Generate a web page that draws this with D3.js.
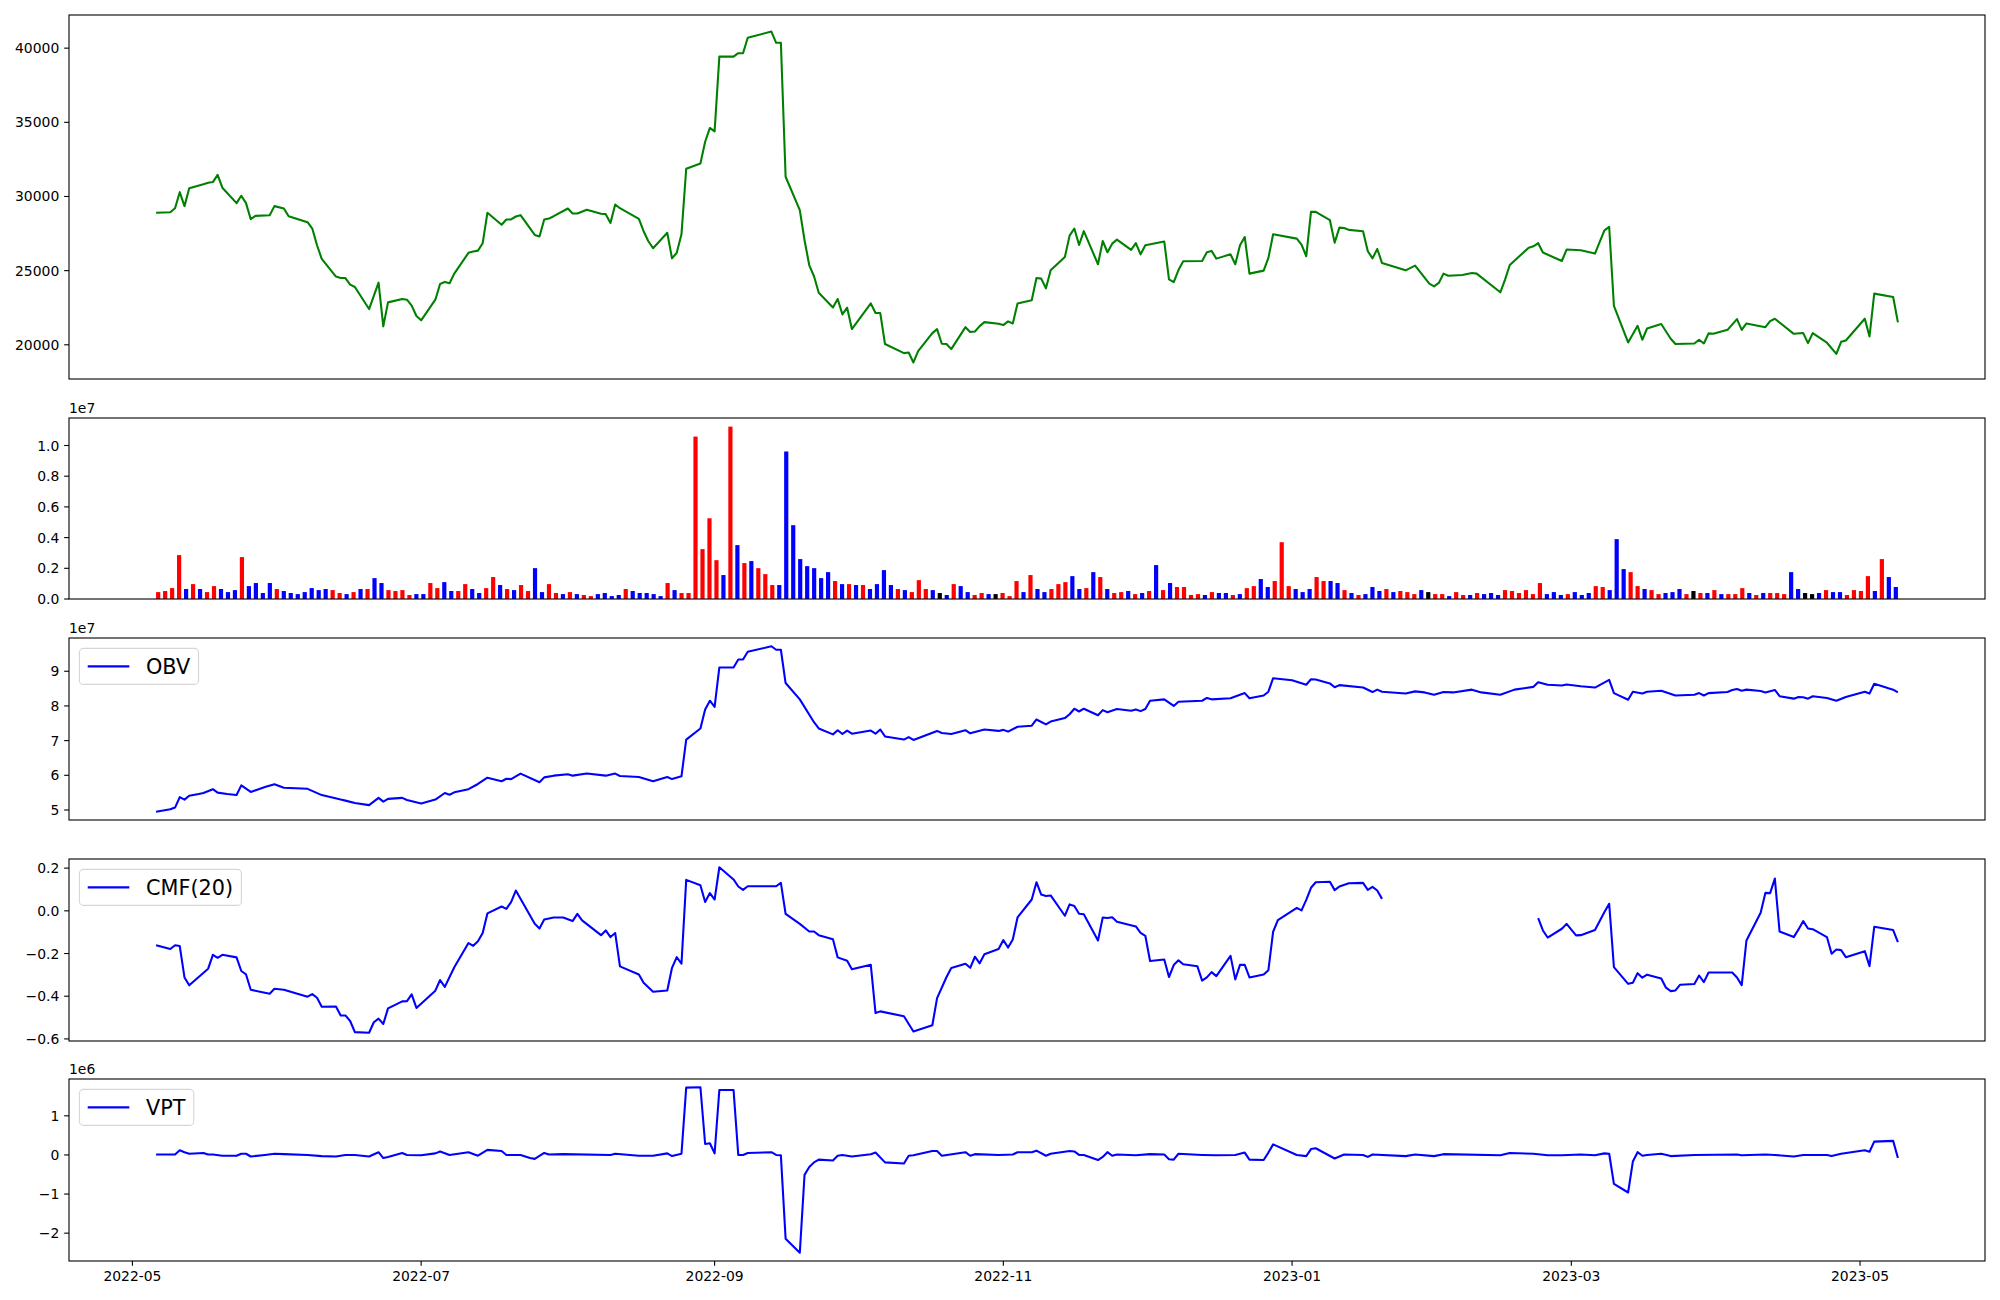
<!DOCTYPE html>
<html><head><meta charset="utf-8">
<script src="https://cdn.jsdelivr.net/npm/d3@7"></script>
<style>body{margin:0;background:#fff;} svg{display:block;} text{font-family:"DejaVu Sans",sans-serif;fill:#000;}</style>
</head><body><svg id="c" width="2000" height="1300"></svg>
<script>
// ---- DATA (x = days after 2022-05-01) ----
const pricePts = [[5,28900],[8,28940],[9,29210],[10,30290],[11,29350],[12,30560],[15,30830],[16,30920],[17,30970],[18,31460],[19,30590],[22,29550],[23,30050],[24,29550],[25,28470],[26,28690],[29,28740],[30,29350],[32,29190],[33,28670],[37,28270],[38,27840],[39,26710],[40,25790],[43,24600],[44,24500],[45,24500],[46,24060],[47,23900],[50,22410],[52,24190],[53,21240],[54,22860],[57,23090],[58,23040],[59,22640],[60,21940],[61,21650],[64,23040],[65,24100],[66,24240],[67,24150],[68,24800],[71,26200],[72,26290],[73,26350],[74,26850],[75,28900],[78,28090],[79,28450],[80,28450],[81,28650],[82,28740],[85,27410],[86,27300],[87,28450],[88,28510],[89,28670],[92,29190],[93,28850],[94,28850],[96,29100],[99,28830],[100,28810],[101,28220],[102,29460],[103,29210],[107,28490],[108,27660],[109,26980],[110,26510],[113,27550],[114,25830],[115,26200],
[116,27450],[117,31870],[120,32230],[121,33690],[122,34620],[123,34390],[124,39430],[127,39430],[128,39660],[129,39660],[130,40700],[135,41120],[136,40360],[137,40360],[138,31330],[141,29080],[142,27050],[143,25360],[144,24620],[145,23510],[148,22520],[149,23090],[150,22050],[151,22500],[152,21060],[156,22790],[157,22140],[158,22140],[159,20050],[163,19440],[164,19480],[165,18810],[166,19570],[169,20790],[170,21060],[171,20070],[172,20050],[173,19710],[176,21190],[177,20860],[178,20900],[179,21260],[180,21530],[183,21420],[184,21330],[185,21580],[186,21440],[187,22790],[190,23000],[191,24500],[192,24460],[193,23810],[194,25020],[197,25920],[198,27360],[199,27840],[200,26730],[201,27660],[204,25430],[205,27000],[206,26240],[207,26820],[208,27090],[211,26400],[212,26850],[213,26100],[214,26710],[218,26960],[219,24410],[220,24230],[221,25040],[222,25630],[226,25650],[227,26240],[228,26330],[229,25810],[232,26100],[233,25430],[234,26710],[235,27270],[236,24800],[239,25000],[240,25860],[241,27450],
[246,27160],[247,26760],[248,25970],[249,28960],[250,28960],[253,28400],[254,26890],[255,27900],[256,27880],[257,27750],[260,27660],[261,26310],[262,25830],[263,26460],[264,25520],[269,25020],[271,25340],[274,24120],[275,23940],[276,24170],[277,24800],[278,24660],[281,24710],[283,24840],[284,24800],[289,23540],[290,24390],[291,25380],[295,26550],[296,26640],[297,26850],[298,26220],[302,25650],[303,26420],[306,26370],[309,26150],[310,26940],[311,27720],[312,27950],[313,22630],[316,20160],[318,21280],[319,20340],[320,21100],[323,21400],[325,20410],[326,20050],[330,20090],[331,20340],[332,20090],[333,20770],[334,20740],[337,21010],[339,21730],[340,21010],[341,21440],[345,21190],[346,21600],[347,21760],[351,20740],[353,20790],[354,20110],[355,20790],[358,20140],[360,19390],[361,20200],[362,20290],[366,21760],[367,20560],[368,23450],[372,23220],[373,21510]];

// daily volume in millions (one bar per trading session, in order)
const volumeM = [0.45,0.52,0.71,2.86,0.65,0.97,0.65,0.45,0.84,0.65,
0.45,0.58,2.73,0.84,1.04,0.39,1.04,0.65,0.52,0.39,
0.32,0.45,0.71,0.58,0.65,0.58,0.39,0.32,0.45,0.65,
0.65,1.36,1.04,0.58,0.52,0.58,0.26,0.32,0.32,1.04,
0.71,1.10,0.52,0.52,0.97,0.65,0.39,0.71,1.43,0.91,
0.65,0.58,0.91,0.52,2.01,0.45,0.97,0.39,0.32,0.45,
0.32,0.26,0.19,0.32,0.39,0.19,0.26,0.65,0.52,0.39,
0.39,0.32,0.19,1.04,0.58,0.39,0.39,10.58,3.25,5.26,
2.53,1.56,11.23,3.51,2.34,2.47,2.01,1.62,0.91,0.91,
9.61,4.81,2.60,2.14,2.01,1.36,1.75,1.17,0.97,0.97,
0.91,0.91,0.65,0.97,1.88,0.91,0.65,0.58,0.45,1.23,
0.65,0.58,0.39,0.26,0.97,0.84,0.45,0.26,0.39,0.32,
0.32,0.39,0.19,1.17,0.45,1.56,0.65,0.45,0.65,0.97,
1.10,1.49,0.65,0.71,1.75,1.43,0.65,0.39,0.45,0.52,
0.32,0.39,0.52,2.21,0.58,1.04,0.78,0.78,0.26,0.32,
0.26,0.45,0.39,0.39,0.26,0.32,0.71,0.84,1.30,0.78,
1.17,3.70,0.84,0.65,0.45,0.65,1.43,1.17,1.17,1.04,
0.58,0.39,0.26,0.32,0.78,0.52,0.65,0.45,0.52,0.45,
0.32,0.58,0.45,0.32,0.32,0.19,0.45,0.26,0.26,0.39,
0.32,0.39,0.26,0.58,0.52,0.39,0.58,0.32,1.04,0.32,
0.45,0.26,0.32,0.45,0.26,0.39,0.84,0.78,0.58,3.90,
1.95,1.75,0.84,0.65,0.58,0.32,0.39,0.45,0.65,0.32,
0.52,0.39,0.39,0.58,0.32,0.32,0.32,0.71,0.39,0.26,
0.39,0.39,0.39,0.32,1.75,0.65,0.39,0.32,0.39,0.58,
0.45,0.45,0.26,0.58,0.52,1.49,0.52,2.60,1.43,0.78];
// price direction of each session: 1 up, -1 down, 0 unchanged
const volumeDir = [1,1,1,1,-1,1,-1,1,1,-1,
-1,-1,1,-1,-1,-1,-1,1,-1,-1,
-1,-1,-1,-1,-1,1,1,-1,1,-1,
1,-1,-1,1,1,1,1,-1,-1,1,
1,-1,-1,1,1,-1,-1,1,1,-1,
1,-1,1,1,-1,-1,1,1,-1,1,
-1,1,1,-1,-1,-1,-1,1,-1,-1,
-1,-1,-1,1,-1,1,1,1,1,1,
1,-1,1,-1,1,-1,1,1,1,-1,
-1,-1,-1,-1,-1,-1,-1,1,-1,1,
-1,1,-1,-1,-1,-1,1,-1,1,1,
1,-1,0,-1,1,-1,-1,1,1,-1,
0,1,1,1,-1,1,-1,-1,1,1,
1,-1,-1,1,-1,1,-1,1,1,-1,
1,-1,1,-1,1,-1,1,1,1,1,
-1,1,-1,-1,1,-1,1,1,-1,-1,
1,1,1,-1,-1,-1,1,1,-1,-1,
1,-1,1,-1,-1,-1,1,-1,1,1,
1,-1,0,1,1,-1,1,1,-1,1,
-1,-1,-1,1,1,1,1,1,1,-1,
-1,-1,1,-1,-1,-1,1,1,-1,-1,
-1,1,1,-1,1,1,-1,-1,-1,1,
0,1,-1,1,-1,1,1,1,-1,1,
-1,1,1,1,-1,-1,0,0,-1,1,
-1,-1,1,1,1,1,-1,1,-1,-1];

// OBV in units of 1e7
const obvPts = [[5,4.95],[8,5.02],[9,5.07],[10,5.37],[11,5.30],[12,5.41],[14,5.46],[15,5.49],[17,5.60],[18,5.50],[20,5.46],[22,5.43],[23,5.71],[25,5.52],[28,5.66],[30,5.74],[32,5.64],[37,5.61],[40,5.43],[42,5.37],[44,5.30],[45,5.27],[47,5.20],[50,5.14],[52,5.35],[53,5.24],[54,5.32],[57,5.35],[58,5.29],[61,5.19],[64,5.30],[66,5.49],[67,5.44],[68,5.51],[71,5.60],[73,5.75],[75,5.93],[78,5.83],[79,5.90],[80,5.89],[82,6.05],[86,5.80],[87,5.94],[89,5.99],[92,6.03],[93,5.99],[96,6.05],[100,5.99],[102,6.05],[103,5.98],[107,5.95],[110,5.83],[113,5.95],[114,5.89],[116,5.97],[117,7.03],[120,7.35],[121,7.90],[122,8.15],[123,7.97],[124,9.11],[127,9.11],[128,9.34],[129,9.34],[130,9.56],[135,9.72],[136,9.62],[137,9.62],[138,8.66],[141,8.19],[144,7.53],[145,7.35],[148,7.18],[149,7.30],[150,7.19],[151,7.29],[152,7.20],[156,7.29],[157,7.20],[158,7.32],[159,7.12],[163,7.03],[164,7.10],[165,7.02],[170,7.28],[171,7.22],[173,7.19],[176,7.30],[177,7.21],[180,7.32],[183,7.28],[184,7.31],[185,7.26],[187,7.40],[190,7.43],[191,7.61],[193,7.47],[194,7.55],[197,7.65],[198,7.76],[199,7.92],[200,7.84],[201,7.92],[204,7.73],[205,7.88],[206,7.82],[208,7.91],[211,7.86],[212,7.90],[213,7.85],[214,7.91],[215,8.15],[218,8.19],[220,8.00],[221,8.12],[226,8.15],[227,8.23],[228,8.19],[232,8.22],[235,8.37],[236,8.22],[239,8.30],[240,8.41],[241,8.80],[245,8.74],[246,8.70],[248,8.61],[249,8.77],[250,8.76],[253,8.65],[254,8.54],[255,8.60],[260,8.53],[262,8.40],[263,8.47],[264,8.41],[269,8.36],[271,8.42],[273,8.39],[275,8.32],[277,8.40],[279,8.39],[283,8.47],[285,8.39],[289,8.32],[292,8.47],[296,8.55],[297,8.68],[299,8.61],[302,8.59],[303,8.62],[306,8.57],[309,8.53],[312,8.75],[313,8.37],[316,8.18],[317,8.41],[319,8.36],[320,8.41],[323,8.44],[326,8.30],[330,8.32],[331,8.37],[332,8.30],[333,8.37],[337,8.40],[338,8.46],[339,8.49],[340,8.44],[341,8.47],[344,8.43],[345,8.39],[347,8.46],[348,8.28],[351,8.21],[352,8.26],[353,8.25],[354,8.21],[355,8.28],[358,8.23],[360,8.15],[362,8.26],[366,8.41],[367,8.36],[368,8.64],[371,8.51],[372,8.47],[373,8.39]];

// CMF(20); null = missing values (line break)
const cmfPts = [[5,-0.161],[8,-0.179],[9,-0.161],[10,-0.165],[11,-0.312],[12,-0.349],[16,-0.271],[17,-0.206],[18,-0.220],[19,-0.206],[22,-0.218],[23,-0.282],[24,-0.298],[25,-0.370],[29,-0.388],[30,-0.365],[32,-0.370],[37,-0.402],[38,-0.390],[39,-0.407],[40,-0.449],[43,-0.448],[44,-0.490],[45,-0.490],[46,-0.516],[47,-0.568],[50,-0.571],[51,-0.522],[52,-0.505],[53,-0.530],[54,-0.457],[57,-0.424],[58,-0.423],[59,-0.391],[60,-0.455],[64,-0.374],[65,-0.324],[66,-0.356],[68,-0.264],[71,-0.151],[72,-0.164],[73,-0.143],[74,-0.104],[75,-0.012],[78,0.020],[79,0.009],[80,0.041],[81,0.095],[85,-0.061],[86,-0.083],[87,-0.041],[89,-0.031],[91,-0.031],[93,-0.048],[94,-0.014],[95,-0.045],[99,-0.114],[100,-0.092],[101,-0.123],[102,-0.104],[103,-0.260],[107,-0.298],[108,-0.337],[110,-0.379],[113,-0.373],[114,-0.267],[115,-0.217],[116,-0.248],[117,0.145],[120,0.120],[121,0.041],[122,0.083],[123,0.053],[124,0.204],[127,0.147],[128,0.114],[129,0.098],[130,0.115],[136,0.115],[137,0.131],[138,-0.014],[141,-0.061],[143,-0.097],[144,-0.097],[145,-0.114],[148,-0.133],[149,-0.218],[151,-0.234],[152,-0.274],[156,-0.253],[157,-0.479],[158,-0.471],[163,-0.494],[165,-0.565],[169,-0.536],[170,-0.409],[172,-0.310],[173,-0.268],[176,-0.248],[177,-0.267],[178,-0.215],[179,-0.246],[180,-0.203],[183,-0.179],[184,-0.137],[185,-0.172],[186,-0.134],[187,-0.031],[190,0.053],[191,0.134],[192,0.076],[193,0.069],[194,0.072],[197,-0.023],[198,0.030],[199,0.023],[200,-0.014],[201,-0.016],[204,-0.139],[205,-0.031],[206,-0.034],[207,-0.030],[208,-0.051],[212,-0.073],[213,-0.103],[214,-0.117],[215,-0.235],[218,-0.228],[219,-0.310],[220,-0.254],[221,-0.232],[222,-0.250],[225,-0.260],[226,-0.327],[227,-0.312],[228,-0.287],[229,-0.306],[232,-0.211],[233,-0.321],[234,-0.253],[235,-0.253],[236,-0.312],[239,-0.298],[240,-0.278],[241,-0.098],[242,-0.044],[246,0.014],[247,0.002],[248,0.051],[249,0.108],[250,0.134],[253,0.136],[254,0.097],[255,0.114],[257,0.129],[260,0.131],[261,0.098],[262,0.112],[263,0.095],[264,0.056],[280,null],[297,-0.034],[298,-0.092],[299,-0.125],[302,-0.084],[303,-0.061],[305,-0.115],[306,-0.114],[309,-0.090],[311,-0.006],[312,0.033],[313,-0.264],[316,-0.342],[317,-0.337],[318,-0.292],[319,-0.313],[320,-0.299],[323,-0.317],[324,-0.360],[325,-0.376],[326,-0.373],[327,-0.346],[330,-0.343],[331,-0.303],[332,-0.334],[333,-0.289],[338,-0.289],[339,-0.312],[340,-0.348],[341,-0.139],[344,-0.009],[345,0.084],[346,0.083],[347,0.151],[348,-0.097],[351,-0.123],[352,-0.087],[353,-0.048],[354,-0.083],[355,-0.086],[358,-0.123],[359,-0.201],[360,-0.181],[361,-0.184],[362,-0.217],[366,-0.189],[367,-0.259],[368,-0.075],[372,-0.090],[373,-0.147]];

// VPT in units of 1e6
const vptPts = [[5,0.01],[9,0.01],[10,0.12],[11,0.07],[12,0.03],[15,0.05],[16,0.01],[17,0.01],[19,-0.02],[22,-0.02],[23,0.03],[24,0.03],[25,-0.04],[28,0.00],[30,0.03],[32,0.02],[37,0.00],[40,-0.03],[43,-0.04],[45,0.00],[47,0.00],[50,-0.04],[52,0.07],[53,-0.08],[54,-0.05],[57,0.05],[58,0.00],[61,-0.01],[64,0.04],[65,0.09],[67,0.00],[71,0.07],[73,-0.02],[75,0.13],[78,0.10],[79,0.00],[82,0.00],[84,-0.08],[85,-0.10],[87,0.05],[88,0.01],[91,0.02],[101,0.00],[102,0.03],[107,-0.02],[110,-0.02],[113,0.04],[114,-0.03],[116,0.03],[117,1.72],[120,1.73],[121,0.28],[122,0.30],[123,0.04],[124,1.66],[127,1.66],[128,0.00],[129,0.00],[130,0.05],[135,0.07],[136,0.00],[137,-0.01],[138,-2.14],[141,-2.50],[142,-0.51],[143,-0.31],[144,-0.19],[145,-0.12],[148,-0.14],[149,-0.02],[150,0.00],[152,-0.04],[156,0.02],[157,0.06],[159,-0.19],[163,-0.22],[164,-0.02],[165,-0.01],[169,0.10],[170,0.10],[171,-0.02],[176,0.07],[177,-0.02],[178,0.02],[183,0.00],[186,0.01],[187,0.07],[190,0.07],[191,0.11],[193,-0.02],[194,0.03],[198,0.10],[199,0.09],[200,0.00],[201,0.00],[204,-0.13],[205,-0.05],[206,0.07],[207,-0.02],[208,0.01],[212,-0.01],[215,0.02],[218,0.01],[219,-0.11],[220,-0.12],[221,0.03],[226,0.00],[229,-0.01],[233,0.00],[235,0.06],[236,-0.12],[239,-0.13],[240,0.06],[241,0.27],[246,0.00],[248,-0.03],[249,0.15],[250,0.17],[254,-0.09],[256,0.01],[260,0.00],[261,-0.05],[262,0.01],[269,-0.03],[271,0.01],[275,-0.03],[277,0.02],[289,-0.01],[291,0.05],[296,0.03],[299,-0.01],[302,-0.01],[306,0.01],[309,-0.01],[311,0.04],[312,0.03],[313,-0.74],[316,-0.96],[317,-0.17],[318,0.07],[319,-0.02],[320,0.00],[323,0.03],[325,-0.03],[330,0.00],[339,0.01],[340,-0.01],[345,0.01],[347,0.00],[351,-0.04],[353,0.00],[358,0.00],[359,-0.03],[361,0.03],[366,0.12],[367,0.08],[368,0.34],[372,0.36],[373,-0.08]];

// ticks
const xTickLabels = ["2022-05","2022-07","2022-09","2022-11","2023-01","2023-03","2023-05"];
const priceTicks = [20000,25000,30000,35000,40000];
const priceTickLabels = ["20000","25000","30000","35000","40000"];
const volumeTicks = [0,0.2,0.4,0.6,0.8,1.0];           // x 1e7
const volumeTickLabels = ["0.0","0.2","0.4","0.6","0.8","1.0"];
const obvTicks = [5,6,7,8,9];                          // x 1e7
const obvTickLabels = ["5","6","7","8","9"];
const cmfTicks = [-0.6,-0.4,-0.2,0,0.2];
const cmfTickLabels = ["\u22120.6","\u22120.4","\u22120.2","0.0","0.2"];
const vptTicks = [-2,-1,0,1];                          // x 1e6
const vptTickLabels = ["\u22122","\u22121","0","1"];

// ---- LAYOUT ----
const AX_L = 69, AX_R = 1985;
const panels = [{top:15,h:364},{top:418,h:181},{top:638,h:182},{top:859,h:182},{top:1079,h:182}];
const FS = 13.9, TICK = 4.86, LW = 2.08;
const svg = d3.select('#c');
svg.append('rect').attr('width',2000).attr('height',1300).attr('fill','#fff');

const t0 = Date.UTC(2022,4,1);
const toDate = d => new Date(t0 + d*864e5);
const days = pricePts.map(p=>p[0]);
const d0 = d3.min(days), d1 = d3.max(days), dp = (d1-d0)*0.05;
const xTime = d3.scaleUtc().domain([toDate(d0-dp), toDate(d1+dp)]).range([AX_L, AX_R]);
const N = volumeM.length, bw = 0.6, bp = 0.05*(N-1+bw);
const xBar = d3.scaleLinear().domain([-bw/2-bp, N-1+bw/2+bp]).range([AX_L, AX_R]);

function padded(vals){const lo=d3.min(vals),hi=d3.max(vals),p=(hi-lo)*0.05;return [lo-p,hi+p];}

function makePanel(i, domain, ticks, labels, offsetText){
  const P = panels[i];
  const g = svg.append('g').attr('transform',`translate(0,${P.top})`);
  const y = d3.scaleLinear().domain(domain).range([P.h,0]);
  ticks.forEach((t,k)=>{
    g.append('line').attr('x1',AX_L-TICK).attr('x2',AX_L).attr('y1',y(t)).attr('y2',y(t))
      .attr('stroke','#000').attr('stroke-width',1.1);
    g.append('text').attr('x',AX_L-TICK-4.9).attr('y',y(t)).attr('dy','0.36em')
      .attr('text-anchor','end').attr('font-size',FS).text(labels[k]);
  });
  if(offsetText) g.append('text').attr('x',AX_L).attr('y',-5).attr('font-size',FS).text(offsetText);
  return {g,y,P};
}
function frame(p){
  p.g.append('rect').attr('x',AX_L).attr('y',0).attr('width',AX_R-AX_L).attr('height',p.P.h)
    .attr('fill','none').attr('stroke','#000').attr('stroke-width',1.1);
}
function drawLine(p, pts, color){
  const line = d3.line().defined(d=>d[1]!==null).x(d=>xTime(toDate(d[0]))).y(d=>p.y(d[1]));
  p.g.append('path').datum(pts).attr('d',line).attr('fill','none').attr('stroke',color)
    .attr('stroke-width',LW).attr('stroke-linejoin','round');
}
function legend(p, label){
  const F = 20.8, bx = AX_L+10.4, by = 10.4, bh = 36;
  const lg = p.g.append('g');
  const rect = lg.append('rect').attr('x',bx).attr('y',by).attr('height',bh).attr('rx',4)
    .attr('fill','#fff').attr('fill-opacity',0.8).attr('stroke','#ccc').attr('stroke-opacity',0.8).attr('stroke-width',1.1);
  const lx1 = bx+0.4*F, lx2 = lx1+2*F, cy = by+bh/2;
  lg.append('line').attr('x1',lx1).attr('x2',lx2).attr('y1',cy).attr('y2',cy).attr('stroke','#0000ff').attr('stroke-width',LW);
  const t = lg.append('text').attr('x',lx2+0.8*F).attr('y',cy).attr('dy','0.36em').attr('font-size',F).text(label);
  const tw = t.node().getComputedTextLength();
  rect.attr('width', lx2+0.8*F+tw+0.4*F-bx);
}

// Panel 1: price
const p1 = makePanel(0, padded(pricePts.map(d=>d[1])), priceTicks, priceTickLabels, null);
drawLine(p1, pricePts, '#008000');
frame(p1);

// Panel 2: volume bars
const vol = volumeM.map(v=>v*1e6);
const p2 = makePanel(1, [0, d3.max(vol)*1.05], volumeTicks.map(t=>t*1e7), volumeTickLabels, '1e7');
const dirColor = d3.scaleOrdinal().domain([1,-1,0]).range(['#ff0000','#0000ff','#000000']);
const bwPx = xBar(bw)-xBar(0);
p2.g.selectAll('rect.bar').data(vol).enter().append('rect').attr('class','bar')
  .attr('x',(d,i)=>xBar(i)-bwPx/2).attr('width',bwPx)
  .attr('y',d=>p2.y(d)).attr('height',d=>p2.y(0)-p2.y(d))
  .attr('fill',(d,i)=>dirColor(volumeDir[i]));
frame(p2);

// Panel 3: OBV
const obv = obvPts.map(d=>[d[0],d[1]*1e7]);
const p3 = makePanel(2, padded(obv.map(d=>d[1])), obvTicks.map(t=>t*1e7), obvTickLabels, '1e7');
drawLine(p3, obv, '#0000ff');
frame(p3);
legend(p3,'OBV');

// Panel 4: CMF
const p4 = makePanel(3, padded(cmfPts.filter(d=>d[1]!==null).map(d=>d[1])), cmfTicks, cmfTickLabels, null);
drawLine(p4, cmfPts, '#0000ff');
frame(p4);
legend(p4,'CMF(20)');

// Panel 5: VPT
const vpt = vptPts.map(d=>[d[0],d[1]*1e6]);
const p5 = makePanel(4, padded(vpt.map(d=>d[1])), vptTicks.map(t=>t*1e6), vptTickLabels, '1e6');
drawLine(p5, vpt, '#0000ff');
frame(p5);
legend(p5,'VPT');

// bottom date axis
const parseM = d3.utcParse('%Y-%m');
const yb = panels[4].top + panels[4].h;
xTickLabels.forEach(lbl=>{
  const x = xTime(parseM(lbl));
  svg.append('line').attr('x1',x).attr('x2',x).attr('y1',yb).attr('y2',yb+TICK).attr('stroke','#000').attr('stroke-width',1.1);
  svg.append('text').attr('x',x).attr('y',yb+TICK+4.9+10.3).attr('text-anchor','middle').attr('font-size',FS).text(lbl);
});
</script>
</body></html>
